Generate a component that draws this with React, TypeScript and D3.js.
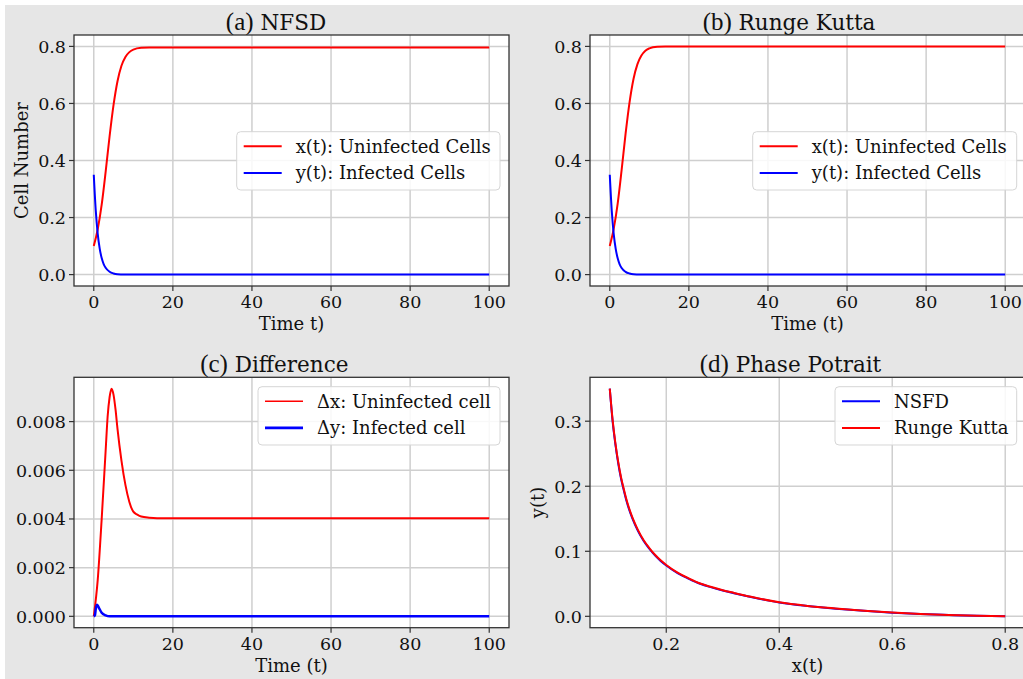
import React from "react";
import * as d3 from "d3";

// time series
const tRise = [0, 1, 2, 3, 4, 5, 6, 7, 8, 9, 10, 12, 14, 16, 20, 100];
const nsfdX = [0.1, 0.159, 0.245, 0.36, 0.485, 0.595, 0.678, 0.732, 0.763, 0.78, 0.789, 0.795, 0.796, 0.796, 0.796, 0.796];
const rkX = [0.1, 0.161, 0.249, 0.367, 0.494, 0.604, 0.686, 0.738, 0.768, 0.785, 0.793, 0.799, 0.8, 0.8, 0.8, 0.8];

const tDecay = [0, 0.5, 1, 1.5, 2, 2.5, 3, 4, 5, 6, 8, 10, 100];
const nsfdY = [0.35, 0.225, 0.143, 0.091, 0.058, 0.037, 0.024, 0.01, 0.004, 0.0015, 0.0003, 0, 0];
const rkY = [0.35, 0.224, 0.142, 0.09, 0.057, 0.036, 0.023, 0.0095, 0.0038, 0.0014, 0.0003, 0, 0];

const tDiffX = [0, 1, 2, 3, 3.5, 4, 4.5, 5, 5.5, 6, 7, 8, 9, 10, 11, 12, 14, 16, 100];
const diffX = [0, 0.0015, 0.004, 0.0068, 0.0082, 0.009, 0.00935, 0.0091, 0.0085, 0.0077, 0.0064, 0.0054, 0.0047, 0.0043, 0.00418, 0.0041, 0.00405, 0.00403, 0.00403];
const tDiffY = [0, 0.3, 0.5, 0.85, 1.3, 2, 3, 4, 100];
const diffY = [0, 0.00005, 0.0003, 0.00048, 0.00035, 0.00015, 0.00004, 0, 0];

// phase portrait
const phaseX = [0.1, 0.105, 0.11, 0.115, 0.12, 0.125, 0.13, 0.14, 0.15, 0.16, 0.17, 0.18, 0.19, 0.2, 0.22, 0.24, 0.26, 0.28, 0.3, 0.32, 0.35, 0.4, 0.45, 0.5, 0.55, 0.6, 0.65, 0.7, 0.75, 0.8];
const phaseRk = [0.35, 0.302, 0.266, 0.237, 0.2135, 0.195, 0.178, 0.152, 0.1325, 0.117, 0.105, 0.0946, 0.0861, 0.079, 0.0672, 0.0583, 0.0505, 0.045, 0.0402, 0.036, 0.03, 0.0215, 0.016, 0.012, 0.0085, 0.0057, 0.0036, 0.002, 0.0008, 0];
const phaseNsfd = [0.35, 0.3, 0.264, 0.235, 0.2115, 0.193, 0.176, 0.1505, 0.131, 0.1158, 0.1039, 0.0936, 0.0852, 0.0782, 0.0665, 0.0577, 0.05, 0.0445, 0.0398, 0.0356, 0.0297, 0.0212, 0.0158, 0.0118, 0.0084, 0.0056, 0.0035, 0.002, 0.0008, 0];

const timeTicks = [0, 20, 40, 60, 80, 100];
const cellTicks = [0, 0.2, 0.4, 0.6, 0.8];
const diffTicks = [0, 0.002, 0.004, 0.006, 0.008];
const phaseXTicks = [0.2, 0.4, 0.6, 0.8];
const phaseYTicks = [0, 0.1, 0.2, 0.3];

const SERIF = "'DejaVu Serif', serif";

type Series = { xs: number[]; ys: number[]; color: string; width: number };
type Leg = { label: string; color: string; width: number };

type PanelProps = {
  id: string;
  left: number;
  top: number;
  w: number;
  h: number;
  xDomain: [number, number];
  yDomain: [number, number];
  xTicks: number[];
  yTicks: number[];
  xFmt: string;
  yFmt: string;
  tag: string;
  title: string;
  titleX: number;
  titleY: number;
  xLabel: string;
  yLabel?: string;
  series: Series[];
  legend: Leg[];
  legBox: { x: number; y: number; w: number; h: number };
};

function Panel(p: PanelProps) {
  const x = d3.scaleLinear().domain(p.xDomain).range([0, p.w]);
  const y = d3.scaleLinear().domain(p.yDomain).range([p.h, 0]);
  const line = (s: Series) =>
    d3
      .line<number>()
      .x((_, i) => x(s.xs[i]))
      .y((d) => y(d))
      .curve(d3.curveMonotoneX)(s.ys) || "";
  const fx = d3.format(p.xFmt);
  const fy = d3.format(p.yFmt);
  const lb = p.legBox;
  return (
    <g>
      <text x={p.titleX} y={p.titleY} textAnchor="middle" fill="#111">
        <tspan fontFamily="'Liberation Serif', serif" fontSize={25}>{p.tag}</tspan>
        <tspan fontFamily={SERIF} fontSize={21.5}>{" " + p.title}</tspan>
      </text>
      <g transform={`translate(${p.left},${p.top})`}>
        <defs>
          <clipPath id={p.id}>
            <rect x={0} y={0} width={p.w} height={p.h} />
          </clipPath>
        </defs>
        <rect x={0} y={0} width={p.w} height={p.h} fill="#fff" />
        {p.xTicks.map((t) => (
          <line key={"gx" + t} x1={x(t)} x2={x(t)} y1={0} y2={p.h} stroke="#cfcfcf" strokeWidth={1.5} />
        ))}
        {p.yTicks.map((t) => (
          <line key={"gy" + t} x1={0} x2={p.w} y1={y(t)} y2={y(t)} stroke="#cfcfcf" strokeWidth={1.5} />
        ))}
        <g clipPath={`url(#${p.id})`}>
          {p.series.map((s, i) => (
            <path key={i} d={line(s)} fill="none" stroke={s.color} strokeWidth={s.width} strokeLinejoin="round" />
          ))}
        </g>
        <rect x={lb.x} y={lb.y} width={lb.w} height={lb.h} rx={4} fill="#fff" fillOpacity={0.85} stroke="#d6d6d6" strokeWidth={1} />
        {p.legend.map((l, i) => {
          const cy = lb.y + 14.5 + i * 26.7;
          return (
            <g key={l.label}>
              <line x1={lb.x + 7} x2={lb.x + 45} y1={cy} y2={cy} stroke={l.color} strokeWidth={l.width} />
              <text x={lb.x + 59} y={cy} dy="0.36em" fontFamily={SERIF} fontSize={18} fill="#111">
                {l.label}
              </text>
            </g>
          );
        })}
        <rect x={0} y={0} width={p.w} height={p.h} fill="none" stroke="#333" strokeWidth={1.3} />
        {p.xTicks.map((t) => (
          <g key={"tx" + t} transform={`translate(${x(t)},${p.h})`}>
            <line y1={0} y2={5} stroke="#333" strokeWidth={1.2} />
            <text y={22} textAnchor="middle" fontFamily={SERIF} fontSize={17.5} fill="#111">
              {fx(t)}
            </text>
          </g>
        ))}
        {p.yTicks.map((t) => (
          <g key={"ty" + t} transform={`translate(0,${y(t)})`}>
            <line x1={0} x2={-5} stroke="#333" strokeWidth={1.2} />
            <text x={-8} dy="0.36em" textAnchor="end" fontFamily={SERIF} fontSize={17.5} fill="#111">
              {fy(t)}
            </text>
          </g>
        ))}
        <text x={p.w / 2} y={p.h + 44} textAnchor="middle" fontFamily={SERIF} fontSize={18} fill="#111">
          {p.xLabel}
        </text>
        {p.yLabel && (
          <text
            transform={`translate(-46,${p.h / 2}) rotate(-90)`}
            textAnchor="middle"
            fontFamily={SERIF}
            fontSize={18}
            fill="#111"
          >
            {p.yLabel}
          </text>
        )}
      </g>
    </g>
  );
}

export default function App() {
  const W = 1023;
  const H = 679;
  const pw = 435;
  const ph = 251;
  const phB = 250.4;
  return (
    <svg width={W} height={H} style={{ position: "fixed", left: 0, top: 0 }}>
      <rect x={0} y={0} width={W} height={H} fill="#fff" />
      <rect x={5} y={5} width={W - 5} height={H - 5} fill="#e6e6e6" />
      <Panel
        id="ca"
        left={74}
        top={35}
        w={pw}
        h={ph}
        xDomain={[-5, 105]}
        yDomain={[-0.04, 0.84]}
        xTicks={timeTicks}
        yTicks={cellTicks}
        xFmt="d"
        yFmt=".1f"
        tag="(a)"
        title="NFSD"
        titleX={276}
        titleY={29.5}
        xLabel="Time t)"
        yLabel="Cell Number"
        series={[
          { xs: tRise, ys: nsfdX, color: "#ff0000", width: 2 },
          { xs: tDecay, ys: nsfdY, color: "#0000ff", width: 2 },
        ]}
        legend={[
          { label: "x(t): Uninfected Cells", color: "#ff0000", width: 2 },
          { label: "y(t): Infected Cells", color: "#0000ff", width: 2 },
        ]}
        legBox={{ x: 162.7, y: 96.7, w: 263.3, h: 58.3 }}
      />
      <Panel
        id="cb"
        left={590}
        top={35}
        w={pw}
        h={ph}
        xDomain={[-5, 105]}
        yDomain={[-0.04, 0.84]}
        xTicks={timeTicks}
        yTicks={cellTicks}
        xFmt="d"
        yFmt=".1f"
        tag="(b)"
        title="Runge Kutta"
        titleX={789}
        titleY={30}
        xLabel="Time (t)"
        series={[
          { xs: tRise, ys: rkX, color: "#ff0000", width: 2 },
          { xs: tDecay, ys: rkY, color: "#0000ff", width: 2 },
        ]}
        legend={[
          { label: "x(t): Uninfected Cells", color: "#ff0000", width: 2 },
          { label: "y(t): Infected Cells", color: "#0000ff", width: 2 },
        ]}
        legBox={{ x: 162.7, y: 96.7, w: 264, h: 58.3 }}
      />
      <Panel
        id="cc"
        left={74}
        top={377.3}
        w={pw}
        h={phB}
        xDomain={[-5, 105]}
        yDomain={[-0.000467, 0.00982]}
        xTicks={timeTicks}
        yTicks={diffTicks}
        xFmt="d"
        yFmt=".3f"
        tag="(c)"
        title="Difference"
        titleX={274.3}
        titleY={371.5}
        xLabel="Time (t)"
        series={[
          { xs: tDiffX, ys: diffX, color: "#ff0000", width: 2 },
          { xs: tDiffY, ys: diffY, color: "#0000ff", width: 2.5 },
        ]}
        legend={[
          { label: "\u0394x: Uninfected cell", color: "#ff0000", width: 1.6 },
          { label: "\u0394y: Infected cell", color: "#0000ff", width: 2.6 },
        ]}
        legBox={{ x: 184, y: 9.4, w: 242, h: 58.3 }}
      />
      <Panel
        id="cd"
        left={590}
        top={377.3}
        w={pw}
        h={phB}
        xDomain={[0.065, 0.835]}
        yDomain={[-0.0175, 0.3675]}
        xTicks={phaseXTicks}
        yTicks={phaseYTicks}
        xFmt=".1f"
        yFmt=".1f"
        tag="(d)"
        title="Phase Potrait"
        titleX={790.5}
        titleY={371.7}
        xLabel="x(t)"
        yLabel="y(t)"
        series={[
          { xs: phaseX, ys: phaseNsfd, color: "#0000ff", width: 2 },
          { xs: phaseX, ys: phaseRk, color: "#ff0000", width: 2 },
        ]}
        legend={[
          { label: "NSFD", color: "#0000ff", width: 2 },
          { label: "Runge Kutta", color: "#ff0000", width: 2 },
        ]}
        legBox={{ x: 245, y: 9.4, w: 181.7, h: 58.3 }}
      />
    </svg>
  );
}
